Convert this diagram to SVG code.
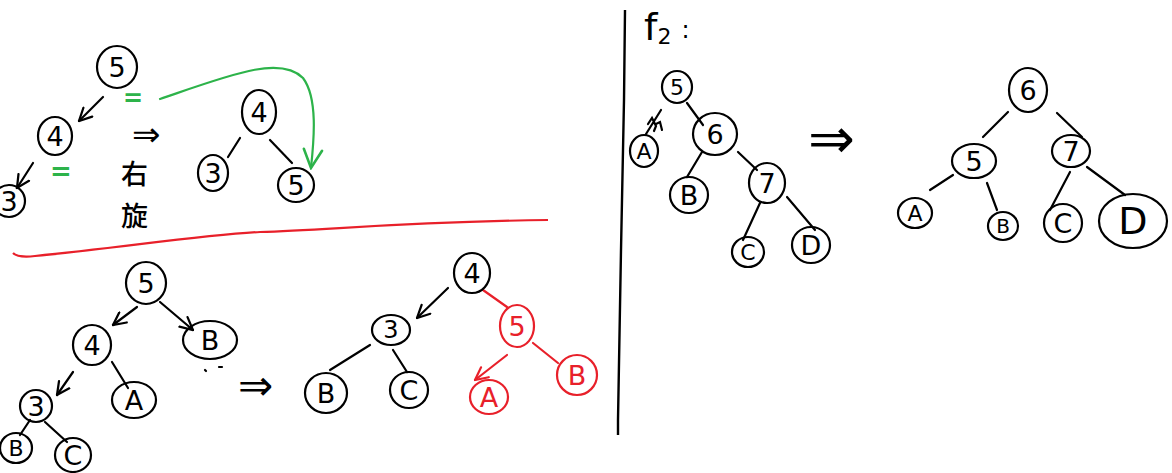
<svg xmlns="http://www.w3.org/2000/svg" width="1172" height="473" viewBox="0 0 1172 473">
<defs>
<marker id="ah" viewBox="0 0 12 12" refX="11" refY="6" markerWidth="15" markerHeight="15" orient="auto" markerUnits="userSpaceOnUse"><path d="M1,1 L11,6 L1,11" fill="none" stroke="#000" stroke-width="1.8" stroke-linecap="round"/></marker>
<marker id="ahr" viewBox="0 0 12 12" refX="11" refY="6" markerWidth="15" markerHeight="15" orient="auto" markerUnits="userSpaceOnUse"><path d="M1,1 L11,6 L1,11" fill="none" stroke="#e8202a" stroke-width="1.8" stroke-linecap="round"/></marker>
<marker id="ahg" viewBox="0 0 12 12" refX="11" refY="6" markerWidth="22" markerHeight="22" orient="auto" markerUnits="userSpaceOnUse"><path d="M1,1 L11,6 L1,11" fill="none" stroke="#2db34a" stroke-width="1.4" stroke-linecap="round"/></marker>
</defs>
<style>
.n ellipse{fill:none;stroke:#000;stroke-width:2.2}
.n text{font-family:"DejaVu Sans","Liberation Sans",sans-serif;font-size:27px;fill:#000;text-anchor:middle;dominant-baseline:central}
.r ellipse{stroke:#e8202a}
.r text{fill:#e8202a}
.c line,.c path{stroke:#000;stroke-width:2.2;fill:none;stroke-linecap:round}
.c .red{stroke:#e8202a}
.c .grn{stroke:#2db34a}
.t{font-family:"DejaVu Sans","Liberation Sans",sans-serif;fill:#000}
.g{font-family:"DejaVu Sans","Liberation Sans",sans-serif;fill:#2db34a;font-weight:bold}
.cjk{font-family:"Noto Sans CJK SC",sans-serif;font-size:27px;font-weight:500;fill:#000}
</style>
<rect width="1172" height="473" fill="#fff"/>

<!-- separators -->
<path d="M13,253 Q18,258 35,256 C120,248 200,235 260,232 C330,230 400,222 548,220" fill="none" stroke="#e8202a" stroke-width="2.2"/>
<path d="M625,10 L624,100 L621,250 L618,420 L618,435" fill="none" stroke="#000" stroke-width="2.4"/>

<!-- connectors -->
<g id="connectors" class="c">
<line x1="103" y1="97" x2="79" y2="121" marker-end="url(#ah)"/>
<line x1="33" y1="163" x2="17" y2="188" marker-end="url(#ah)"/>
<line x1="240" y1="138" x2="228" y2="157"/>
<line x1="270" y1="140" x2="292" y2="163"/>
<path class="grn" d="M160,99 C230,75 280,55 303,78 C318,98 314,140 311,168" marker-end="url(#ahg)"/>
<line x1="137" y1="307" x2="113" y2="325" marker-end="url(#ah)"/>
<line x1="160" y1="302" x2="193" y2="330" marker-end="url(#ah)"/>
<line x1="112" y1="362" x2="128" y2="388"/>
<line x1="73" y1="372" x2="57" y2="395" marker-end="url(#ah)"/>
<line x1="30" y1="420" x2="20" y2="435"/>
<line x1="45" y1="422" x2="67" y2="442"/>
<line x1="448" y1="288" x2="417" y2="318" marker-end="url(#ah)"/>
<line x1="370" y1="345" x2="330" y2="370"/>
<line x1="393" y1="350" x2="407" y2="372"/>
<line class="red" x1="483" y1="290" x2="507" y2="307"/>
<line class="red" x1="533" y1="343" x2="558" y2="363"/>
<line class="red" x1="507" y1="355" x2="475" y2="380" marker-end="url(#ahr)"/>
<line x1="687" y1="103" x2="703" y2="125"/>
<path d="M661,110 L646,134 M648,124 L652,118 L656,126 L654,131 M656,124 L660,122 L662,130"/>
<line x1="702" y1="152" x2="687" y2="177"/>
<line x1="738" y1="152" x2="757" y2="170"/>
<line x1="760" y1="203" x2="743" y2="240"/>
<line x1="787" y1="197" x2="815" y2="230"/>
<line x1="1008" y1="112" x2="983" y2="137"/>
<line x1="1057" y1="113" x2="1082" y2="137"/>
<line x1="953" y1="175" x2="930" y2="190"/>
<line x1="987" y1="183" x2="997" y2="210"/>
<line x1="1070" y1="172" x2="1050" y2="210"/>
<line x1="1087" y1="167" x2="1125" y2="195"/>
<path d="M205,370 L206,371 M219,367 L222,367"/>
</g>

<!-- symbols -->
<text class="g" x="123" y="106" font-size="24">=</text>
<text class="g" x="50" y="180" font-size="26">=</text>
<text class="t" x="132" y="146" font-size="34">⇒</text>
<text class="cjk" x="121" y="184">右</text>
<text class="cjk" x="121" y="226">旋</text>
<text class="t" x="238" y="400" font-size="42">⇒</text>
<text class="t" x="808" y="158" font-size="56">⇒</text>
<text class="t" x="644" y="40" font-size="38">f<tspan font-size="22" dy="4">2</tspan><tspan dx="10" dy="-6" font-size="24">:</tspan></text>

<!-- top-left: before rotation -->
<g id="tl5" class="n"><ellipse cx="117" cy="67" rx="20" ry="21"/><text x="117" y="67">5</text></g>
<g id="tl4" class="n"><ellipse cx="55" cy="136" rx="17" ry="19"/><text x="55" y="136">4</text></g>
<g id="tl3" class="n"><ellipse cx="9" cy="201" rx="16" ry="16"/><text x="9" y="201">3</text></g>
<!-- top-left: after rotation -->
<g id="tr4" class="n"><ellipse cx="259" cy="112" rx="17" ry="22"/><text x="259" y="112">4</text></g>
<g id="tr3" class="n"><ellipse cx="213" cy="173" rx="15" ry="18"/><text x="213" y="173">3</text></g>
<g id="tr5" class="n"><ellipse cx="296" cy="185" rx="18" ry="17"/><text x="296" y="185">5</text></g>

<!-- bottom-left -->
<g id="bl5" class="n"><ellipse cx="146" cy="283" rx="20" ry="21"/><text x="146" y="283">5</text></g>
<g id="bl4" class="n"><ellipse cx="92" cy="345" rx="19" ry="20"/><text x="92" y="345">4</text></g>
<g id="blB" class="n"><ellipse cx="210" cy="340" rx="27" ry="19"/><text x="210" y="340">B</text></g>
<g id="blA" class="n"><ellipse cx="134" cy="400" rx="22" ry="18"/><text x="134" y="400">A</text></g>
<g id="bl3" class="n"><ellipse cx="36" cy="406" rx="16" ry="16"/><text x="36" y="406">3</text></g>
<g id="blB2" class="n"><ellipse cx="16" cy="448" rx="16" ry="15"/><text x="16" y="448" style="font-size:22px">B</text></g>
<g id="blC" class="n"><ellipse cx="73" cy="455" rx="18" ry="17"/><text x="73" y="455">C</text></g>

<!-- bottom-middle -->
<g id="bm4" class="n"><ellipse cx="472" cy="273" rx="18" ry="20"/><text x="472" y="273">4</text></g>
<g id="bm3" class="n"><ellipse cx="391" cy="330" rx="19" ry="15"/><text x="391" y="330" style="font-size:24px">3</text></g>
<g id="bmB" class="n"><ellipse cx="326" cy="393" rx="21" ry="20"/><text x="326" y="393">B</text></g>
<g id="bmC" class="n"><ellipse cx="409" cy="390" rx="19" ry="18"/><text x="409" y="390">C</text></g>
<g id="bm5" class="n r"><ellipse cx="517" cy="326" rx="17" ry="21"/><text x="517" y="326">5</text></g>
<g id="bmB2" class="n r"><ellipse cx="577" cy="375" rx="20" ry="20"/><text x="577" y="375">B</text></g>
<g id="bmA" class="n r"><ellipse cx="489" cy="397" rx="19" ry="17"/><text x="489" y="397">A</text></g>

<!-- f2 before -->
<g id="r5" class="n"><ellipse cx="677" cy="87" rx="15" ry="16"/><text x="677" y="87" style="font-size:22px">5</text></g>
<g id="r6" class="n"><ellipse cx="715" cy="134" rx="22" ry="21"/><text x="715" y="134">6</text></g>
<g id="rA" class="n"><ellipse cx="644" cy="151" rx="14" ry="16"/><text x="644" y="151" style="font-size:22px">A</text></g>
<g id="rB" class="n"><ellipse cx="689" cy="195" rx="19" ry="18"/><text x="689" y="195">B</text></g>
<g id="r7" class="n"><ellipse cx="767" cy="183" rx="18" ry="20"/><text x="767" y="183">7</text></g>
<g id="rC" class="n"><ellipse cx="748" cy="252" rx="16" ry="15"/><text x="748" y="252" style="font-size:22px">C</text></g>
<g id="rD" class="n"><ellipse cx="811" cy="245" rx="19" ry="18"/><text x="811" y="245">D</text></g>

<!-- f2 after -->
<g id="s6" class="n"><ellipse cx="1028" cy="90" rx="19" ry="22"/><text x="1028" y="90">6</text></g>
<g id="s5" class="n"><ellipse cx="974" cy="161" rx="22" ry="17"/><text x="974" y="161">5</text></g>
<g id="s7" class="n"><ellipse cx="1071" cy="151" rx="19" ry="16"/><text x="1071" y="151">7</text></g>
<g id="sA" class="n"><ellipse cx="915" cy="213" rx="17" ry="15"/><text x="915" y="213" style="font-size:22px">A</text></g>
<g id="sB" class="n"><ellipse cx="1003" cy="226" rx="15" ry="14"/><text x="1003" y="226" style="font-size:20px">B</text></g>
<g id="sC" class="n"><ellipse cx="1063" cy="223" rx="19" ry="19"/><text x="1063" y="223">C</text></g>
<g id="sD" class="n"><ellipse cx="1133" cy="221" rx="34" ry="27"/><text x="1133" y="221" style="font-size:38px">D</text></g>
</svg>
